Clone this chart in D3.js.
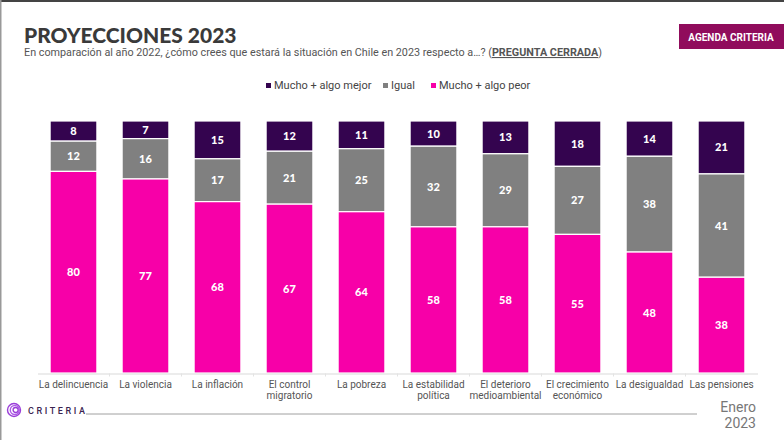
<!DOCTYPE html>
<html>
<head>
<meta charset="utf-8">
<script src="https://cdn.jsdelivr.net/npm/d3@7"></script>
<style>
  html, body { margin: 0; padding: 0; background: #fff; }
  svg { display: block; }
</style>
</head>
<body>
<script>
const categories = ['La delincuencia', 'La violencia', 'La inflación', 'El control|migratorio', 'La pobreza',
    'La estabilidad|política', 'El deterioro|medioambiental', 'El crecimiento|económico', 'La desigualdad', 'Las pensiones'];
const peor = [80, 77, 68, 67, 64, 58, 58, 55, 48, 38];
const igual = [12, 16, 17, 21, 25, 32, 29, 27, 38, 41];
const mejor = [8, 7, 15, 12, 11, 10, 13, 18, 14, 21];
const seriesNames = ['Mucho + algo mejor', 'Igual', 'Mucho + algo peor'];
const colors = ['#34044f', '#808080', '#f700a8'];

var width = 784,
    height = 440;

var svg = d3.select('body').append('svg')
    .attr('width', width)
    .attr('height', height);

// frame
svg.append('rect').attr('x', 0).attr('y', 0).attr('width', width).attr('height', 2).attr('fill', '#444');
svg.append('rect').attr('x', 0).attr('y', 0).attr('width', 1.5).attr('height', height).attr('fill', '#999');

// title
svg.append('text')
    .attr('x', 24).attr('y', 43)
    .attr('font-family', 'Lato').attr('font-weight', 900).attr('font-size', 21)
    .attr('fill', '#3a3a3a')
    .text('PROYECCIONES 2023');

var sub = svg.append('text')
    .attr('x', 24).attr('y', 56)
    .attr('font-family', 'Liberation Sans Narrow, Roboto, sans-serif').attr('font-size', 10.8)
    .attr('fill', '#555');
sub.append('tspan').text('En comparación al año 2022, ¿cómo crees que estará la situación en Chile en 2023 respecto a…? (');
sub.append('tspan').attr('font-weight', 'bold').attr('text-decoration', 'underline').text('PREGUNTA CERRADA');
sub.append('tspan').text(')');

// badge
svg.append('rect').attr('x', 679).attr('y', 24).attr('width', 105).attr('height', 25).attr('fill', '#900c5c');
svg.append('text')
    .attr('x', 731).attr('y', 40.5).attr('text-anchor', 'middle')
    .attr('font-family', 'Roboto').attr('font-weight', 'bold').attr('font-size', 10)
    .attr('fill', '#fff')
    .text('AGENDA CRITERIA');

// legend
var legendX = [266, 383, 431];
var legend = svg.selectAll('.legend')
    .data(seriesNames)
    .enter()
    .append('g')
    .attr('transform', (d, i) => `translate(${legendX[i]}, 87)`);
legend.append('rect')
    .attr('x', 0).attr('y', -4).attr('width', 5).attr('height', 5)
    .attr('fill', (d, i) => colors[i]);
legend.append('text')
    .attr('x', 8).attr('y', 1.5)
    .attr('font-family', 'Liberation Sans Narrow, Roboto, sans-serif').attr('font-size', 11)
    .attr('fill', '#444')
    .text(d => d);

// chart
var xScale = d3.scaleBand()
    .domain(categories)
    .range([37.5, 757.5])
    .paddingInner(0.35)
    .paddingOuter(0.175);

var yScale = d3.scaleLinear()
    .domain([0, 100])
    .range([373, 121]);

var rows = categories.map((c, i) => ({ cat: c, peor: peor[i], igual: igual[i], mejor: mejor[i] }));
var stack = d3.stack().keys(['mejor', 'igual', 'peor']).order(d3.stackOrderReverse);
var layers = stack(rows);

var groups = svg.selectAll('.layer')
    .data(layers)
    .enter()
    .append('g')
    .attr('fill', (d, i) => colors[i]);

groups.selectAll('rect')
    .data(d => d)
    .enter()
    .append('rect')
    .attr('x', d => xScale(d.data.cat))
    .attr('y', d => yScale(d[1]))
    .attr('width', xScale.bandwidth())
    .attr('height', d => yScale(d[0]) - yScale(d[1]))
    .attr('stroke', '#fff')
    .attr('stroke-width', 1.2);

groups.selectAll('text')
    .data(d => d.map(v => ({ v: v, key: d.key })))
    .enter()
    .append('text')
    .attr('x', d => xScale(d.v.data.cat) + xScale.bandwidth() / 2)
    .attr('y', d => yScale((d.v[0] + d.v[1]) / 2) + 4)
    .attr('text-anchor', 'middle')
    .attr('font-family', 'Lato').attr('font-weight', 900).attr('font-size', 11)
    .attr('fill', '#fff')
    .text(d => d.v.data[d.key]);

// axis
var xAxis = d3.axisBottom(xScale).tickSize(0).tickPadding(7);
var xAxisGroup = svg.append('g')
    .attr('transform', 'translate(0, 373.5)')
    .call(xAxis);
xAxisGroup.select('.domain').attr('stroke', '#d9d9d9');
xAxisGroup.selectAll('.tick text').remove();
xAxisGroup.selectAll('.tick').each(function(d) {
    var t = d3.select(this).append('text')
        .attr('y', 14)
        .attr('text-anchor', 'middle')
        .attr('font-family', 'Liberation Sans Narrow, Roboto, sans-serif').attr('font-size', 10)
        .attr('fill', '#555');
    d.split('|').forEach((line, k) => {
        t.append('tspan').attr('x', 0).attr('dy', k ? 11 : 0).text(line);
    });
});
xAxisGroup.selectAll('.sep')
    .data(categories.slice(1))
    .enter()
    .append('line')
    .attr('x1', d => xScale(d) - xScale.step() * 0.175)
    .attr('x2', d => xScale(d) - xScale.step() * 0.175)
    .attr('y1', 0).attr('y2', 3)
    .attr('stroke', '#e3e3e3');

// footer
var logo = svg.append('g').attr('transform', 'translate(14, 410)');
[6.5, 4.5, 2.5].forEach((r, i) => {
    logo.append('circle').attr('cx', i * 0.8).attr('cy', 0).attr('r', r)
        .attr('fill', 'none').attr('stroke', i == 1 ? '#b05ce8' : '#9a3ed8').attr('stroke-width', 1.4);
});
svg.append('text')
    .attr('x', 28).attr('y', 413.5)
    .attr('font-family', 'Roboto').attr('font-weight', 500).attr('font-size', 9)
    .attr('letter-spacing', 2.6)
    .attr('fill', '#3a2450')
    .text('CRITERIA');
svg.append('line')
    .attr('x1', 86).attr('x2', 697).attr('y1', 414).attr('y2', 414)
    .attr('stroke', '#888').attr('stroke-width', 0.8);
svg.append('text')
    .attr('x', 756).attr('y', 412).attr('text-anchor', 'end')
    .attr('font-family', 'Liberation Sans Narrow, Roboto, sans-serif').attr('font-size', 14)
    .attr('fill', '#777')
    .text('Enero');
svg.append('text')
    .attr('x', 756).attr('y', 428).attr('text-anchor', 'end')
    .attr('font-family', 'Liberation Sans Narrow, Roboto, sans-serif').attr('font-size', 14)
    .attr('fill', '#777')
    .text('2023');
</script>
</body>
</html>
